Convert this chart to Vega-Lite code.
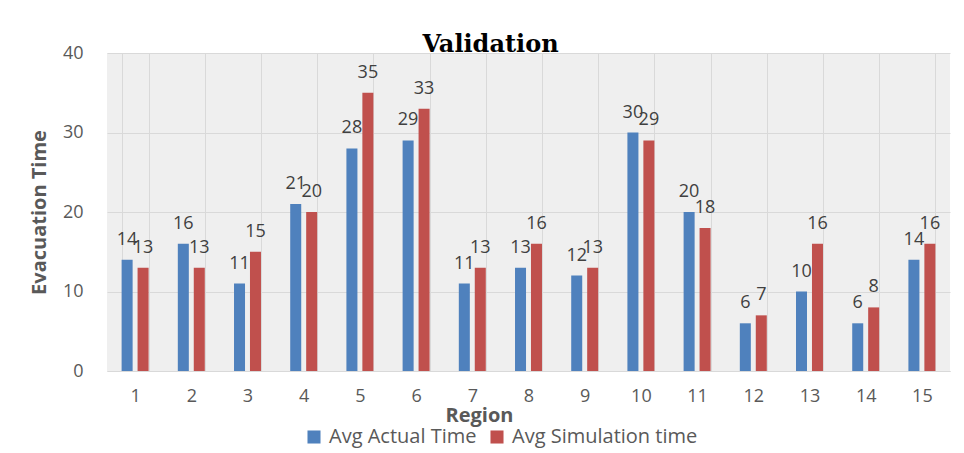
{
  "$schema": "https://vega.github.io/schema/vega-lite/v6.json",
  "width": 843,
  "height": 318,
  "autosize": {"type": "none"},
  "padding": {"left": 107, "top": 53, "right": 14, "bottom": 82},
  "background": "white",
  "config": {
    "view": {"fill": "#efefef", "stroke": null},
    "font": "Open Sans"
  },
  "title": {
    "text": "Validation",
    "font": "DejaVu Serif",
    "fontSize": 24,
    "fontWeight": "bold",
    "color": "#000000",
    "anchor": "middle",
    "frame": "group",
    "baseline": "alphabetic",
    "offset": -12,
    "dx": -38,
    "dy": 20
  },
  "data": {
    "values": [
      {"region": 1, "series": "Avg Actual Time", "value": 14},
      {"region": 2, "series": "Avg Actual Time", "value": 16},
      {"region": 3, "series": "Avg Actual Time", "value": 11},
      {"region": 4, "series": "Avg Actual Time", "value": 21},
      {"region": 5, "series": "Avg Actual Time", "value": 28},
      {"region": 6, "series": "Avg Actual Time", "value": 29},
      {"region": 7, "series": "Avg Actual Time", "value": 11},
      {"region": 8, "series": "Avg Actual Time", "value": 13},
      {"region": 9, "series": "Avg Actual Time", "value": 12},
      {"region": 10, "series": "Avg Actual Time", "value": 30},
      {"region": 11, "series": "Avg Actual Time", "value": 20},
      {"region": 12, "series": "Avg Actual Time", "value": 6},
      {"region": 13, "series": "Avg Actual Time", "value": 10},
      {"region": 14, "series": "Avg Actual Time", "value": 6},
      {"region": 15, "series": "Avg Actual Time", "value": 14},
      {"region": 1, "series": "Avg Simulation time", "value": 13},
      {"region": 2, "series": "Avg Simulation time", "value": 13},
      {"region": 3, "series": "Avg Simulation time", "value": 15},
      {"region": 4, "series": "Avg Simulation time", "value": 20},
      {"region": 5, "series": "Avg Simulation time", "value": 35},
      {"region": 6, "series": "Avg Simulation time", "value": 33},
      {"region": 7, "series": "Avg Simulation time", "value": 13},
      {"region": 8, "series": "Avg Simulation time", "value": 16},
      {"region": 9, "series": "Avg Simulation time", "value": 13},
      {"region": 10, "series": "Avg Simulation time", "value": 29},
      {"region": 11, "series": "Avg Simulation time", "value": 18},
      {"region": 12, "series": "Avg Simulation time", "value": 7},
      {"region": 13, "series": "Avg Simulation time", "value": 16},
      {"region": 14, "series": "Avg Simulation time", "value": 8},
      {"region": 15, "series": "Avg Simulation time", "value": 16}
    ]
  },
  "encoding": {
    "x": {
      "field": "region",
      "type": "ordinal",
      "scale": {"paddingInner": 0.52, "paddingOuter": 0.26},
      "axis": {
        "title": "Region",
        "labelAngle": 0,
        "labelFont": "Open Sans",
        "labelFontSize": 18,
        "labelColor": "#595959",
        "labelPadding": 16,
        "ticks": false,
        "tickBand": "extent",
        "grid": true,
        "gridColor": "#d9d9d9",
        "gridWidth": 1,
        "domain": true,
        "domainColor": "#d9d9d9",
        "titleFont": "Open Sans",
        "titleFontSize": 20,
        "titleFontWeight": "bold",
        "titleColor": "#595959",
        "titleBaseline": "middle",
        "titleY": 44,
        "titleX": 372
      }
    },
    "xOffset": {
      "field": "series",
      "type": "nominal",
      "scale": {"paddingInner": 0.31, "paddingOuter": 0}
    },
    "y": {
      "field": "value",
      "type": "quantitative",
      "scale": {"domain": [0, 40]},
      "axis": {
        "title": "Evacuation Time",
        "values": [0, 10, 20, 30, 40],
        "labelFont": "Open Sans",
        "labelFontSize": 18,
        "labelColor": "#595959",
        "labelPadding": 24,
        "ticks": false,
        "domain": false,
        "grid": true,
        "gridColor": "#d9d9d9",
        "gridWidth": 1,
        "titleFont": "Open Sans",
        "titleFontSize": 20,
        "titleFontWeight": "bold",
        "titleColor": "#595959",
        "titleAngle": -90,
        "titleBaseline": "middle",
        "titleAlign": "center",
        "titleX": -68,
        "titleY": 159
      }
    }
  },
  "layer": [
    {
      "mark": {"type": "bar"},
      "encoding": {
        "color": {
          "field": "series",
          "type": "nominal",
          "scale": {
            "domain": ["Avg Actual Time", "Avg Simulation time"],
            "range": ["#4f81bd", "#c0504d"]
          },
          "legend": {
            "title": null,
            "orient": "none",
            "direction": "horizontal",
            "legendX": 197,
            "legendY": 374,
            "symbolType": "square",
            "symbolSize": 170,
            "symbolStrokeWidth": 0,
            "labelFont": "Open Sans",
            "labelFontSize": 20,
            "labelLimit": 400,
            "labelColor": "#595959",
            "labelOffset": 5,
            "columnPadding": 10
          }
        }
      }
    },
    {
      "mark": {
        "type": "text",
        "baseline": "alphabetic",
        "dy": -15,
        "fontSize": 18,
        "font": "Open Sans",
        "color": "#404040"
      },
      "encoding": {
        "text": {"field": "value", "type": "quantitative"}
      }
    }
  ]
}
